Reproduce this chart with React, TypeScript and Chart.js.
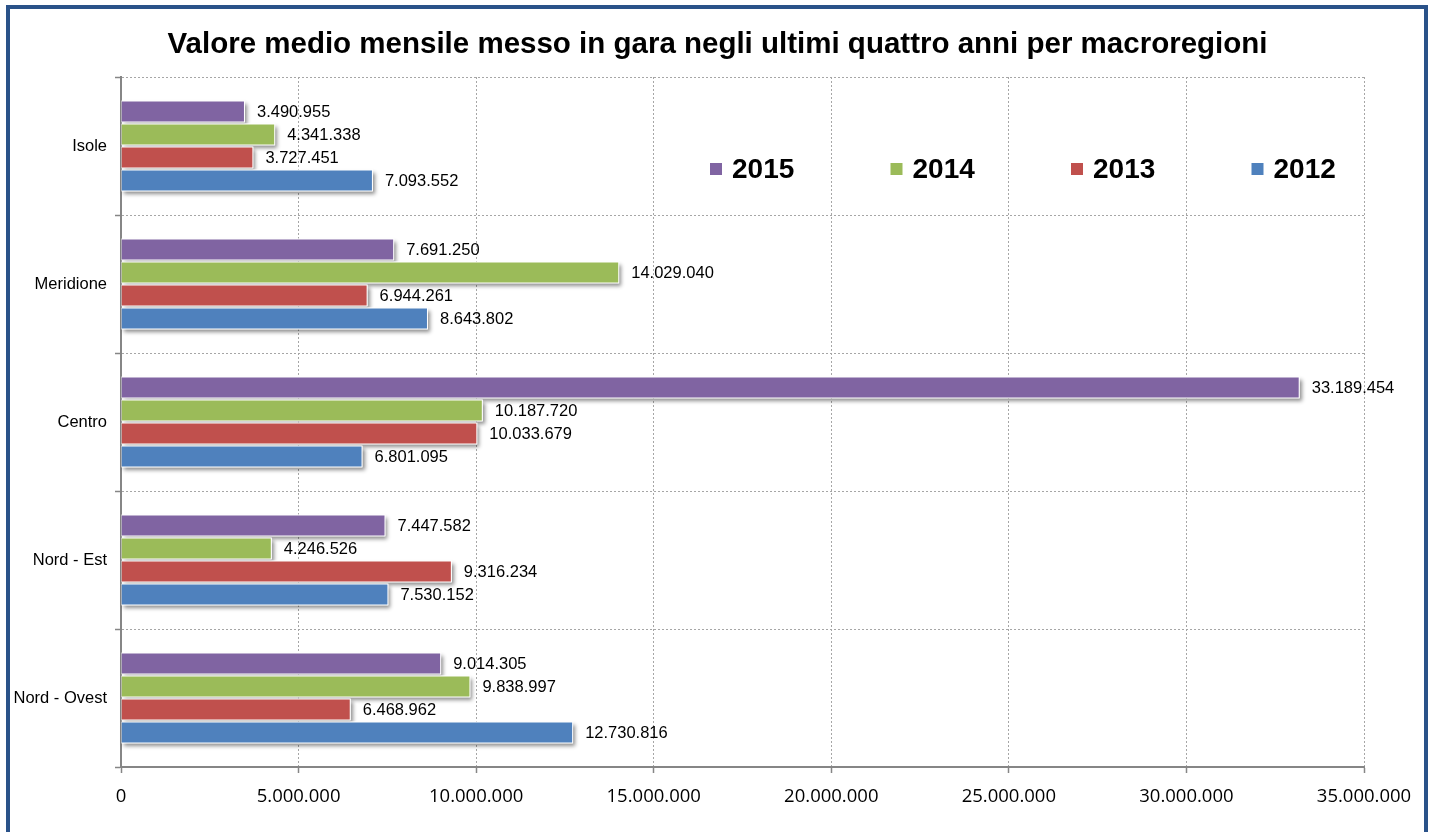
import React, { useEffect, useRef } from "react";
import { Chart, registerables } from "chart.js";

Chart.register(...registerables);

const TITLE = "Valore medio mensile messo in gara negli ultimi quattro anni per macroregioni";
const categories = ["Isole", "Meridione", "Centro", "Nord - Est", "Nord - Ovest"];
const seriesNames = ["2015", "2014", "2013", "2012"];
const values2015 = [3490955, 7691250, 33189454, 7447582, 9014305];
const values2014 = [4341338, 14029040, 10187720, 4246526, 9838997];
const values2013 = [3727451, 6944261, 10033679, 9316234, 6468962];
const values2012 = [7093552, 8643802, 6801095, 7530152, 12730816];
const seriesColors = ["#8064A2", "#9BBB59", "#C0504D", "#4F81BD"];
const xMin = 0;
const xMax = 35000000;
const xStep = 5000000;

const fmt = (n: number) => {
  const s = Math.round(n).toString();
  if (n === 0) return "0";
  return s.replace(/\B(?=(\d{3})+(?!\d))/g, ".");
};

const shadowPlugin = {
  id: "barShadow",
  beforeDatasetsDraw(chart: any) {
    const ctx = chart.ctx;
    chart.data.datasets.forEach((_: any, di: number) => {
      const meta = chart.getDatasetMeta(di);
      meta.data.forEach((el: any) => {
        const left = Math.min(el.base, el.x);
        const w = Math.abs(el.x - el.base);
        const top = el.y - el.height / 2;
        ctx.save();
        ctx.shadowColor = "rgba(0,0,0,0.45)";
        ctx.shadowBlur = 4;
        ctx.shadowOffsetX = 2;
        ctx.shadowOffsetY = 3;
        ctx.fillStyle = "#ffffff";
        ctx.fillRect(left, top, w, el.height);
        ctx.restore();
      });
    });
  },
};

const labelPlugin = {
  id: "labelsTitleLegend",
  afterDatasetsDraw(chart: any) {
    const ctx = chart.ctx;
    ctx.save();
    ctx.font = "16.5px 'Liberation Sans', Arial, sans-serif";
    ctx.fillStyle = "#000";
    ctx.textAlign = "left";
    ctx.textBaseline = "middle";
    chart.data.datasets.forEach((ds: any, di: number) => {
      const meta = chart.getDatasetMeta(di);
      meta.data.forEach((el: any, i: number) => {
        ctx.fillText(fmt(ds.data[i]), el.x + 12, el.y + 1);
      });
    });
    ctx.restore();
  },
  afterDraw(chart: any) {
    const ctx = chart.ctx;
    const area = chart.chartArea;
    ctx.save();
    // title
    ctx.font = "bold 29.5px 'Liberation Sans', Arial, sans-serif";
    ctx.fillStyle = "#000";
    ctx.textAlign = "center";
    ctx.textBaseline = "middle";
    ctx.fillText(TITLE, chart.width / 2 + 1, 45);
    // legend
    const x0 = area.left + 589;
    const step = 180.5;
    const cy = 169;
    chart.data.datasets.forEach((ds: any, i: number) => {
      const x = x0 + i * step;
      ctx.fillStyle = ds.backgroundColor;
      ctx.fillRect(x, cy - 6, 12, 12);
      ctx.fillStyle = "#000";
      ctx.textAlign = "left";
      ctx.font = "bold 28px 'Liberation Sans', Arial, sans-serif";
      ctx.fillText(ds.label, x + 22, cy + 1);
    });
    ctx.restore();
  },
};

export default function App() {
  const ref = useRef<HTMLCanvasElement | null>(null);

  useEffect(() => {
    document.body.style.margin = "0";
    if (!ref.current) return;
    const allValues = [values2015, values2014, values2013, values2012];
    const chart = new Chart(ref.current, {
      type: "bar",
      data: {
        labels: categories,
        datasets: seriesNames.map((name, i) => ({
          label: name,
          data: allValues[i],
          backgroundColor: seriesColors[i],
          borderColor: "#ffffff",
          borderWidth: 1,
          borderSkipped: "start",
          categoryPercentage: 0.667,
          barPercentage: 0.95,
        })),
      },
      options: {
        indexAxis: "y",
        responsive: false,
        animation: false,
        devicePixelRatio: 1,
        layout: { padding: { top: 77, right: 69, left: 0, bottom: 0 } },
        plugins: {
          legend: { display: false },
          title: { display: false },
          tooltip: { enabled: false },
        },
        scales: {
          x: {
            type: "linear",
            min: xMin,
            max: xMax,
            ticks: {
              stepSize: xStep,
              color: "#000",
              padding: 13,
              maxRotation: 0,
              font: { family: "'Open Sans', sans-serif", size: 18.5 },
              callback: (v: any) => fmt(Number(v)),
            },
            grid: {
              color: "#a6a6a6",
              lineWidth: 1,
              tickLength: 6,
              tickColor: "#868686",
              tickWidth: 1.5,
              tickBorderDash: [],
            },
            border: { display: true, color: "#868686", width: 2, dash: [2, 2] },
            afterFit: (s: any) => {
              s.height = 65;
              s.paddingLeft = 0;
              s.paddingRight = 0;
            },
          },
          y: {
            type: "category",
            ticks: {
              color: "#000",
              padding: 8,
              font: { family: "'Liberation Sans', Arial, sans-serif", size: 16.5 },
            },
            grid: {
              offset: true,
              color: "#a6a6a6",
              lineWidth: 1,
              tickLength: 6,
              tickColor: "#868686",
              tickWidth: 1.5,
              tickBorderDash: [],
            },
            border: { display: true, color: "#868686", width: 2, dash: [2, 2] },
            afterFit: (s: any) => {
              s.width = 121;
              s.paddingTop = 0;
              s.paddingBottom = 0;
            },
          },
        },
      },
      plugins: [shadowPlugin, labelPlugin],
    } as any);
    return () => chart.destroy();
  }, []);

  return (
    <div style={{ position: "relative", width: 1433, height: 832, overflow: "hidden", background: "#fff" }}>
      <canvas ref={ref} width={1433} height={832} style={{ position: "absolute", left: 0, top: 0 }} />
      <div
        style={{
          position: "absolute",
          left: 6,
          top: 5,
          width: 1422,
          height: 840,
          boxSizing: "border-box",
          border: "4px solid #2A5289",
          pointerEvents: "none",
        }}
      />
    </div>
  );
}
